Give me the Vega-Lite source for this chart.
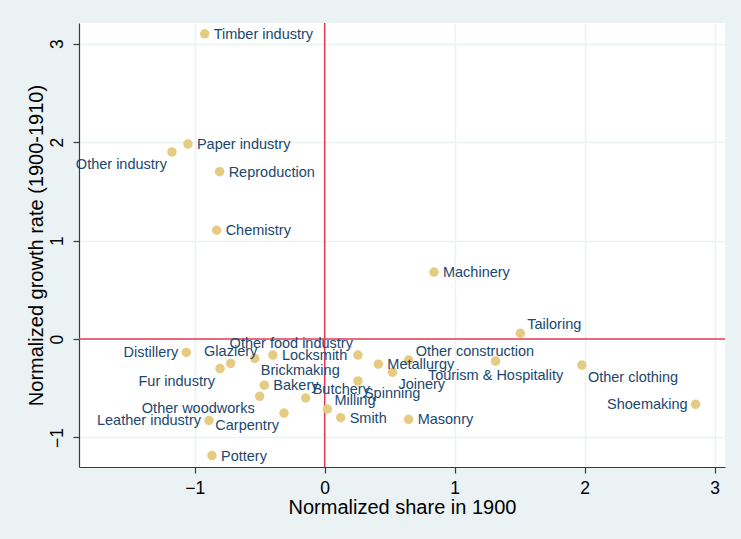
{
  "$schema": "https://vega.github.io/schema/vega-lite/v6.json",
  "autosize": {"type": "none"},
  "width": 646,
  "height": 444,
  "padding": {"left": 79, "top": 23, "right": 16, "bottom": 72},
  "background": "#EAF2F3",
  "config": {
    "view": {"fill": "white", "stroke": null},
    "font": "Liberation Sans",
    "axis": {
      "grid": true,
      "gridColor": "#EAF2F3",
      "gridWidth": 1.5,
      "domainColor": "#3a3a3a",
      "domainWidth": 1.2,
      "tickColor": "#3a3a3a",
      "tickSize": 6,
      "tickWidth": 1.2,
      "labelColor": "black",
      "labelFont": "Liberation Sans",
      "labelFontSize": 17.5,
      "titleFont": "Liberation Sans",
      "titleFontSize": 20,
      "titleFontWeight": "normal",
      "titleColor": "black",
      "labelPadding": 6
    }
  },
  "datasets": {
    "industries": [
      {"industry": "Timber industry", "share": -0.923, "growth": 3.10},
      {"industry": "Paper industry", "share": -1.052, "growth": 1.98},
      {"industry": "Other industry", "share": -1.175, "growth": 1.90},
      {"industry": "Reproduction", "share": -0.808, "growth": 1.70},
      {"industry": "Chemistry", "share": -0.831, "growth": 1.105},
      {"industry": "Machinery", "share": 0.841, "growth": 0.68},
      {"industry": "Tailoring", "share": 1.505, "growth": 0.058},
      {"industry": "Distillery", "share": -1.064, "growth": -0.136},
      {"industry": "Fur industry", "share": -0.805, "growth": -0.30},
      {"industry": "Glaziery", "share": -0.723, "growth": -0.248},
      {"industry": "Brickmaking", "share": -0.538, "growth": -0.197},
      {"industry": "Locksmith", "share": -0.398, "growth": -0.163},
      {"industry": "Other food industry", "share": 0.256, "growth": -0.163},
      {"industry": "Metallurgy", "share": 0.413, "growth": -0.255},
      {"industry": "Joinery", "share": 0.521, "growth": -0.337},
      {"industry": "Other construction", "share": 0.646, "growth": -0.214},
      {"industry": "Tourism & Hospitality", "share": 1.315, "growth": -0.224},
      {"industry": "Other clothing", "share": 1.979, "growth": -0.265},
      {"industry": "Shoemaking", "share": 2.854, "growth": -0.663},
      {"industry": "Spinning", "share": 0.256, "growth": -0.426},
      {"industry": "Bakery", "share": -0.464, "growth": -0.469},
      {"industry": "Other woodworks", "share": -0.50, "growth": -0.582},
      {"industry": "Butchery", "share": -0.146, "growth": -0.599},
      {"industry": "Milling", "share": 0.021, "growth": -0.711},
      {"industry": "Smith", "share": 0.123, "growth": -0.799},
      {"industry": "Carpentry", "share": -0.313, "growth": -0.752},
      {"industry": "Leather industry", "share": -0.89, "growth": -0.827},
      {"industry": "Pottery", "share": -0.867, "growth": -1.184},
      {"industry": "Masonry", "share": 0.646, "growth": -0.816}
    ]
  },
  "data": {"name": "industries"},
  "encoding": {
    "x": {
      "field": "share", "type": "quantitative",
      "scale": {"domain": [-1.89, 3.08], "nice": false, "zero": false},
      "axis": {"values": [-1, 0, 1, 2, 3], "title": "Normalized share in 1900", "titlePadding": 1, "labelPadding": 6}
    },
    "y": {
      "field": "growth", "type": "quantitative",
      "scale": {"domain": [-1.30, 3.21], "nice": false, "zero": false},
      "axis": {"values": [-1, 0, 1, 2, 3], "title": "Normalized growth rate (1900-1910)", "labelAngle": -90, "labelAlign": "center", "labelBaseline": "bottom", "labelPadding": 7, "titlePadding": 2}
    }
  },
  "layer": [
    {
      "data": {"values": [{"v": 0}]},
      "mark": {"type": "rule", "color": "#E23C55", "strokeWidth": 1.5},
      "encoding": {"x": {"field": "v", "type": "quantitative"}, "y": null}
    },
    {
      "data": {"values": [{"v": 0}]},
      "mark": {"type": "rule", "color": "#E23C55", "strokeWidth": 1.5},
      "encoding": {"y": {"field": "v", "type": "quantitative"}, "x": null}
    },
    {
      "mark": {"type": "point", "shape": "circle", "filled": true, "opacity": 1, "color": "#E5CC82", "size": 90}
    },
    {
      "transform": [{"filter": {"field": "industry", "oneOf": ["Timber industry", "Paper industry", "Reproduction", "Chemistry", "Machinery", "Locksmith", "Metallurgy", "Bakery", "Smith", "Masonry", "Pottery"]}}],
      "mark": {"type": "text", "align": "left", "baseline": "middle", "dx": 9, "dy": 1, "fontSize": 14.5, "color": "#1A476F"},
      "encoding": {"text": {"field": "industry"}}
    },
    {
      "transform": [{"filter": {"field": "industry", "oneOf": ["Distillery", "Leather industry", "Shoemaking"]}}],
      "mark": {"type": "text", "align": "right", "baseline": "middle", "dx": -8, "dy": 1, "fontSize": 14.5, "color": "#1A476F"},
      "encoding": {"text": {"field": "industry"}}
    },
    {
      "transform": [{"filter": {"field": "industry", "oneOf": ["Other industry", "Fur industry", "Other woodworks", "Carpentry"]}}],
      "mark": {"type": "text", "align": "right", "baseline": "middle", "dx": -5, "dy": 13, "fontSize": 14.5, "color": "#1A476F"},
      "encoding": {"text": {"field": "industry"}}
    },
    {
      "transform": [{"filter": {"field": "industry", "oneOf": ["Brickmaking", "Joinery", "Spinning", "Other clothing"]}}],
      "mark": {"type": "text", "align": "left", "baseline": "middle", "dx": 6, "dy": 13, "fontSize": 14.5, "color": "#1A476F"},
      "encoding": {"text": {"field": "industry"}}
    },
    {
      "transform": [{"filter": {"field": "industry", "oneOf": ["Tailoring", "Other construction", "Butchery", "Milling"]}}],
      "mark": {"type": "text", "align": "left", "baseline": "middle", "dx": 7, "dy": -8, "fontSize": 14.5, "color": "#1A476F"},
      "encoding": {"text": {"field": "industry"}}
    },
    {
      "transform": [{"filter": {"field": "industry", "oneOf": ["Other food industry"]}}],
      "mark": {"type": "text", "align": "right", "baseline": "middle", "dx": -5, "dy": -11, "fontSize": 14.5, "color": "#1A476F"},
      "encoding": {"text": {"field": "industry"}}
    },
    {
      "transform": [{"filter": {"field": "industry", "oneOf": ["Glaziery"]}}],
      "mark": {"type": "text", "align": "center", "baseline": "middle", "dx": 0, "dy": -11, "fontSize": 14.5, "color": "#1A476F"},
      "encoding": {"text": {"field": "industry"}}
    },
    {
      "transform": [{"filter": {"field": "industry", "oneOf": ["Tourism & Hospitality"]}}],
      "mark": {"type": "text", "align": "center", "baseline": "middle", "dx": 0, "dy": 15, "fontSize": 14.5, "color": "#1A476F"},
      "encoding": {"text": {"field": "industry"}}
    }
  ]
}
